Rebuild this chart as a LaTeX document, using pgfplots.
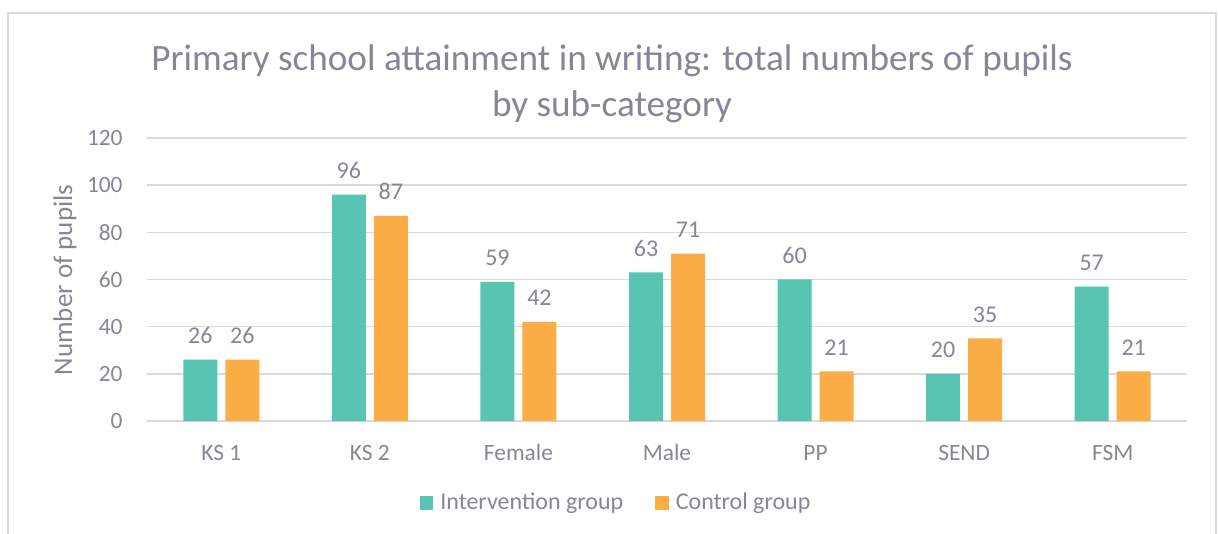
\documentclass[border=0pt]{standalone}
\usepackage{pgfplots}
\pgfplotsset{compat=1.18}
\usepackage{fontspec}
\setmainfont{Carlito}
\definecolor{txt}{HTML}{898496}
\definecolor{teal1}{HTML}{58C4B2}
\definecolor{orng}{HTML}{FAAE45}
\definecolor{gridc}{HTML}{D9D9D9}
\begin{document}
\begin{tikzpicture}[x=1pt,y=1pt]
\useasboundingbox (0,0) rectangle (609,267);
\draw[gridc, line width=1pt] (4,-5) -- (4,260.5) -- (608,260.5) -- (608,-5);
\node[txt, font=\fontsize{18.6}{22}\selectfont, anchor=base] at (306,231.5) {Primary school attainment in writing: total numbers of pupils};
\node[txt, font=\fontsize{18.6}{22}\selectfont, anchor=base] at (306,208.5) {by sub-category};
\node[txt, font=\fontsize{13.5}{16}\selectfont, rotate=90] at (32.5,127) {Number of pupils};
\begin{axis}[
  at={(73.5pt,56.5pt)}, anchor=south west,
  scale only axis, width=520pt, height=141.5pt,
  xmin=-0.5, xmax=6.5, ymin=0, ymax=120,
  ytick={0,20,...,120},
  xtick=data,
  xticklabels={KS 1,KS 2,Female,Male,PP,SEND,FSM},
  axis line style={draw=none},
  major tick length=0pt,
  ymajorgrids, grid style={gridc, line width=0.75pt},
  /pgf/number format/assume math mode=true,
  tick label style={txt, font=\fontsize{11.7}{13}\selectfont},
  yticklabel style={anchor=east, inner sep=0pt, xshift=-12pt},
  xticklabel style={anchor=base, inner sep=0pt, yshift=-19.5pt},
  ybar=4pt, bar width=17pt,
  nodes near coords,
  every node near coord/.append style={txt, font=\fontsize{12}{14}\selectfont, anchor=base, inner sep=0pt, yshift=8pt},
  legend style={at={(0.452,-0.29)}, anchor=center, draw=none, fill=none,
    legend columns=2, font=\fontsize{12}{14}\selectfont, text=txt,
    /tikz/every odd column/.append style={column sep=1.5pt},
    /tikz/every even column/.append style={column sep=14pt}},
  legend image code/.code={\fill[#1] (0pt,-3.4pt) rectangle (6.8pt,3.4pt);},
]
\addplot[fill=teal1, draw=none] coordinates {(0,26) (1,96) (2,59) (3,63) (4,60) (5,20) (6,57)};
\addplot[fill=orng, draw=none] coordinates {(0,26) (1,87) (2,42) (3,71) (4,21) (5,35) (6,21)};
\legend{Intervention group, Control group}
\end{axis}
\end{tikzpicture}
\end{document}
